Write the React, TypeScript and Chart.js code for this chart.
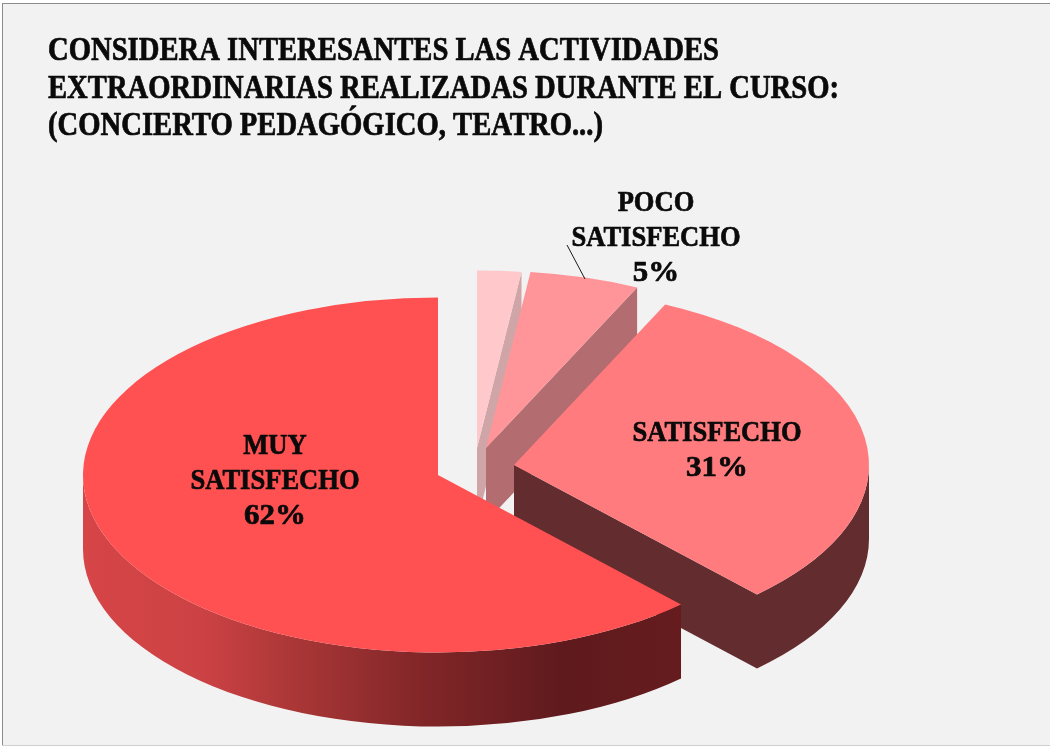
import React, { useEffect, useRef } from "react";
import { Chart, registerables } from "chart.js";

Chart.register(...registerables);

const categories = ["", "POCO SATISFECHO", "SATISFECHO", "MUY SATISFECHO"];
const values = [2, 5, 31, 62];
const percentLabels = ["", "5%", "31%", "62%"];
const topColors = ["#ffc9cc", "#ff9598", "#ff7b7e", "#ff5052"];
const wallColors = ["#cfa5a8", "#b36d70", "#632d30", "#7f2527"];
const titleLines = [
  "CONSIDERA INTERESANTES LAS ACTIVIDADES",
  "EXTRAORDINARIAS REALIZADAS DURANTE EL CURSO:",
  "(CONCIERTO PEDAGÓGICO, TEATRO...)",
];

// layout of the flattened 3D pie
const PIE = { x: 438, y: 475, radius: 355, squash: 0.5, depth: 74 };
const explodeX = [39, 48, 76, 0];
const explodeY = [-27, -27, -10, 0];
const labelAnchorX = [0, 656, 717, 275];
const labelFirstBaseline = [0, 211, 441, 454];
const LABEL_LINE = 35;
const FONT = '"Liberation Serif", serif';

const fitText = (ctx: any, text: string, x: number, y: number, scaleX: number, align: string) => {
  ctx.save();
  ctx.translate(x, y);
  ctx.scale(scaleX, 1);
  ctx.textAlign = align;
  ctx.textBaseline = "alphabetic";
  ctx.lineWidth = 0.7;
  ctx.lineJoin = "round";
  ctx.strokeStyle = ctx.fillStyle;
  ctx.strokeText(text, 0, 0);
  ctx.fillText(text, 0, 0);
  ctx.restore();
};

const pie3d = {
  id: "pie3d",
  beforeDraw(chart: any) {
    const { ctx, width, height } = chart;
    ctx.save();
    ctx.fillStyle = "#ffffff";
    ctx.fillRect(0, 0, width, height);
    ctx.fillStyle = "#f2f2f2";
    ctx.fillRect(2, 3, width - 2, height - 5);
    ctx.fillStyle = "#8c8c8c";
    ctx.fillRect(2, 3, width - 2, 1);
    ctx.fillRect(2, 3, 1, height - 5);
    ctx.fillStyle = "#cfcfcf";
    ctx.fillRect(2, height - 2, width - 2, 1);
    ctx.restore();
  },
  beforeDatasetsDraw(chart: any) {
    const { ctx, chartArea } = chart;
    const arcs = chart.getDatasetMeta(0).data;
    const cx = (chartArea.left + chartArea.right) / 2;
    const cy = (chartArea.top + chartArea.bottom) / 2;
    const { depth, squash } = PIE;

    ctx.save();
    arcs.forEach((arc: any, i: number) => {
      arc.x = cx + explodeX[i];
      arc.y = cy + explodeY[i] / squash;
      const sx = PIE.x + explodeX[i];
      const sy = PIE.y + explodeY[i];
      const r = arc.outerRadius;
      const ry = r * squash;
      const start = arc.startAngle;
      const end = arc.endAngle;

      let fill: any = wallColors[i];
      if (i === 3) {
        const g = ctx.createLinearGradient(PIE.x - r, 0, PIE.x + 245, 0);
        g.addColorStop(0, "#d64547");
        g.addColorStop(0.2, "#cc4244");
        g.addColorStop(0.36, "#a93636");
        g.addColorStop(0.55, "#842729");
        g.addColorStop(0.8, "#5f1a1d");
        g.addColorStop(1, "#661c1e");
        fill = g;
      }
      ctx.fillStyle = fill;

      // cut faces that look towards the viewer
      const cutFace = (a: number) => {
        const ex = sx + r * Math.cos(a);
        const ey = sy + ry * Math.sin(a);
        ctx.beginPath();
        ctx.moveTo(sx, sy);
        ctx.lineTo(ex, ey);
        ctx.lineTo(ex, ey + depth);
        ctx.lineTo(sx, sy + depth);
        ctx.closePath();
        ctx.fill();
      };
      if (Math.cos(start) < -1e-6) cutFace(start);
      if (Math.cos(end) > 1e-6) cutFace(end);

      // outer rim, front half only
      const a0 = Math.max(start, 0);
      const a1 = Math.min(end, Math.PI);
      if (a1 > a0) {
        ctx.beginPath();
        ctx.ellipse(sx, sy, r, ry, 0, a0, a1, false);
        ctx.ellipse(sx, sy + depth, r, ry, 0, a1, a0, true);
        ctx.closePath();
        ctx.fill();
      }
    });
    ctx.restore();

    ctx.save();
    ctx.translate(PIE.x, PIE.y);
    ctx.scale(1, squash);
    ctx.translate(-cx, -cy);
  },
  afterDatasetsDraw(chart: any) {
    const { ctx } = chart;
    ctx.restore();

    ctx.save();
    ctx.fillStyle = "#0a0a0a";

    ctx.font = `bold 33px ${FONT}`;
    const titleBaselines = [60, 97.5, 135];
    titleLines.forEach((line, i) => {
      fitText(ctx, line, 48, titleBaselines[i], 0.868, "left");
    });

    ctx.font = `bold 30px ${FONT}`;
    categories.forEach((cat, i) => {
      if (!cat) return;
      const words = cat.split(" ");
      words.forEach((line, j) => {
        fitText(ctx, line, labelAnchorX[i], labelFirstBaseline[i] + j * LABEL_LINE, 0.885, "center");
      });
      fitText(ctx, percentLabels[i], labelAnchorX[i], labelFirstBaseline[i] + words.length * LABEL_LINE, 1.03, "center");
    });

    // leader line of the POCO SATISFECHO label
    ctx.strokeStyle = "#1a1a1a";
    ctx.lineWidth = 1;
    ctx.beginPath();
    ctx.moveTo(567, 245);
    ctx.lineTo(585, 279);
    ctx.stroke();
    ctx.restore();
  },
};

export default function App() {
  const ref = useRef<HTMLCanvasElement>(null);
  useEffect(() => {
    const chart = new Chart(ref.current as HTMLCanvasElement, {
      type: "pie",
      data: {
        labels: categories,
        datasets: [
          {
            data: values,
            backgroundColor: topColors,
            borderWidth: 0,
            radius: PIE.radius,
            clip: false,
          } as any,
        ],
      },
      options: {
        responsive: false,
        animation: false,
        rotation: 0,
        plugins: {
          legend: { display: false },
          title: { display: false },
          tooltip: { enabled: false },
        },
      },
      plugins: [pie3d],
    } as any);
    return () => chart.destroy();
  }, []);
  return (
    <div style={{ position: "fixed", left: 0, top: 0, width: 1050, height: 747 }}>
      <canvas ref={ref} width={1050} height={747} style={{ display: "block" }} />
    </div>
  );
}
